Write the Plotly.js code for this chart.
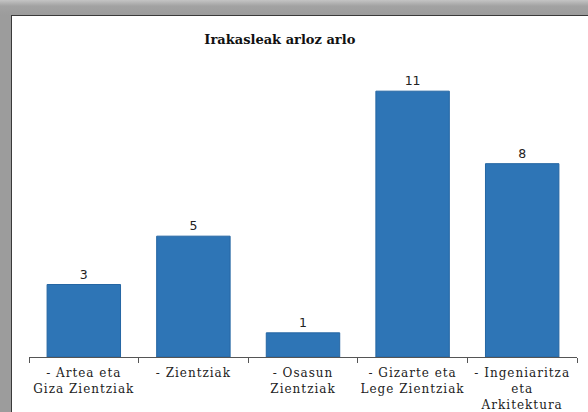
<!DOCTYPE html>
<html>
<head>
<meta charset="utf-8">
<script src="https://cdn.plot.ly/plotly-3.0.1.min.js"></script>
<style>
  html, body { margin: 0; padding: 0; width: 588px; height: 412px; overflow: hidden; }
  body { background: linear-gradient(to bottom, #c4c4c4 0px, #a2a2a2 6px, #9c9c9c 15px); position: relative; }
  #frame { position: absolute; left: 11px; top: 15px; width: 577px; height: 397px; background: #fff;
           border-top: 1px solid #3a3a3a; border-left: 1px solid #3a3a3a; box-sizing: border-box; }
  #chart { position: absolute; left: 0; top: 0; width: 576px; height: 396px; }
  #chart .xtick text { letter-spacing: 1px; }
</style>
</head>
<body>
<div id="frame"><div id="chart"></div></div>
<script>
const categories = [
  "- Artea eta<br>Giza Zientziak",
  "- Zientziak",
  "- Osasun<br>Zientziak",
  "- Gizarte eta<br>Lege Zientziak",
  "- Ingeniaritza<br>eta<br>Arkitektura"
];
const values = [3, 5, 1, 11, 8];
const chartTitle = "Irakasleak arloz arlo";

const trace = {
  type: "bar",
  x: categories,
  y: values,
  text: values.map(String),
  textposition: "outside",
  cliponaxis: false,
  textfont: { family: "DejaVu Sans", size: 12.5, color: "#222" },
  marker: { color: "#2E75B6", line: { color: "#2566a3", width: 1 } },
  hoverinfo: "none"
};

const layout = {
  width: 576, height: 396,
  margin: { l: 17, r: 11, t: 51, b: 55 },
  paper_bgcolor: "rgba(0,0,0,0)",
  plot_bgcolor: "rgba(0,0,0,0)",
  bargap: 0.33,
  showlegend: false,
  title: {
    text: "<b>" + chartTitle + "</b>",
    font: { family: "DejaVu Serif", size: 13, color: "#111" },
    xref: "container", x: 0.465, xanchor: "center",
    yref: "container", y: 0.942, yanchor: "middle"
  },
  xaxis: {
    type: "category",
    showline: true, linecolor: "#555", linewidth: 1,
    ticks: "outside", tickson: "boundaries", ticklen: 5, tickcolor: "#555",
    ticklabelstandoff: 5,
    tickfont: { family: "DejaVu Serif", size: 12, color: "#222" },
    showgrid: false, zeroline: false, fixedrange: true
  },
  yaxis: {
    range: [0, 12],
    visible: false, showgrid: false, zeroline: false, fixedrange: true
  }
};

Plotly.newPlot("chart", [trace], layout, { staticPlot: true, displayModeBar: false });
</script>
</body>
</html>
